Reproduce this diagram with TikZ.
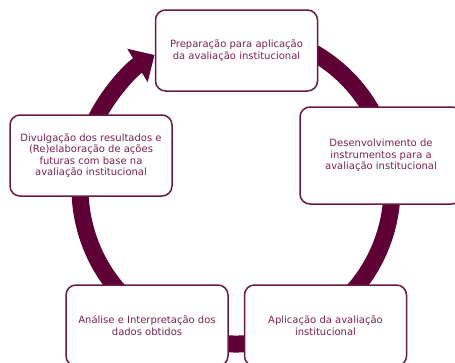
\documentclass[tikz,border=0pt]{standalone}
\usepackage{fontspec}
\setmainfont{DejaVu Sans}
\usetikzlibrary{arrows.meta}
\definecolor{ringc}{HTML}{5E0036}
\definecolor{edgec}{HTML}{6A1A40}
\definecolor{txtc}{HTML}{7A2250}
\begin{document}
\begin{tikzpicture}[x=1pt,y=-1pt,
  box/.style={draw=edgec, line width=1.5pt, rounded corners=10pt, fill=white,
    minimum width=162pt, minimum height=81pt, align=center, text=txtc,
    font=\fontsize{10}{11.4}\selectfont, inner sep=2pt},
  ringline/.style={draw=ringc, line width=17pt, -{Triangle[width=38pt,length=20pt]}}]
\useasboundingbox (0,0) rectangle (455,362);
\clip (0,0) rectangle (455,362);
\coordinate (ctr) at (236,188);
\draw[ringline] (ctr) ++(60:156pt) arc[start angle=60, end angle=-238.5, radius=156pt];
\node[box] (prep) at (236.5,50.5) {Preparação para aplicação\\da avaliação institucional};
\node[box, minimum height=97pt] (desen) at (381,155.5) {Desenvolvimento de\\instrumentos para a\\avaliação institucional};
\node[box] (aplic) at (325.5,325.5) {Aplicação da avaliação\\institucional};
\node[box] (anal) at (147,325.5) {Análise e Interpretação dos\\dados obtidos};
\node[box] (divul) at (91,155.5) {Divulgação dos resultados e\\(Re)elaboração de ações\\futuras com base na\\avaliação institucional};
\end{tikzpicture}
\end{document}
